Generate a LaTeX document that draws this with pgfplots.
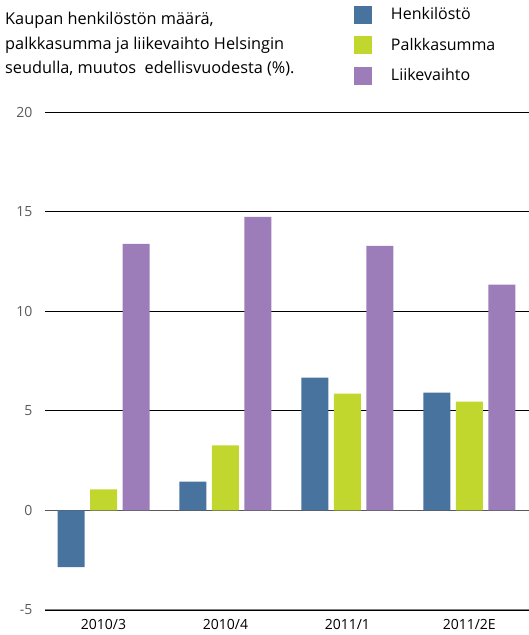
\documentclass[border=0pt]{standalone}
\usepackage{fontspec}
\setmainfont{Open Sans}
\usepackage{pgfplots}
\pgfplotsset{compat=1.18}
\definecolor{henk}{RGB}{71,115,158}
\definecolor{palk}{RGB}{193,215,46}
\definecolor{liik}{RGB}{157,125,185}
\definecolor{ticktext}{RGB}{90,90,90}

\begin{document}
\begin{tikzpicture}[x=1pt,y=1pt]
\useasboundingbox (0,0) rectangle (529,635);
\node[anchor=north west, align=left, inner sep=0pt,
      font=\fontsize{16.3}{24.5}\selectfont] at (5,623)
  {Kaupan henkilöstön määrä,\\palkkasumma ja liikevaihto Helsingin\\seudulla, muutos\ \ edellisvuodesta (\%).};
\begin{axis}[
    at={(45pt,25pt)}, anchor=south west,
    scale only axis,
    width=484pt, height=498pt,
    ybar, bar width=27pt, ybar=5.5pt,
    xmin=-0.48, xmax=3.49,
    ymin=-5, ymax=20,
    xtick={0,1,2,3},
    xticklabels={2010/3,2010/4,2011/1,2011/2E},
    ytick={-5,0,5,10,15,20},
    ymajorgrids,
    grid style={black, line width=0.8pt},
    axis line style={draw=none},
    major tick length=0pt,
    /pgf/number format/assume math mode=true,
    tick label style={font=\fontsize{14}{17}\selectfont},
    yticklabel style={text=ticktext, xshift=-9pt},
    xticklabel style={text=black, yshift=-6pt},
    legend style={at={(axis description cs:0.638,1.214)}, anchor=north west,
        draw=none, fill=none, inner sep=0pt, row sep=12.5pt,
        font=\fontsize{16}{18}\selectfont,
        nodes={inner sep=1pt},
        /tikz/every odd column/.append style={column sep=18pt}},
    legend cell align=left,
    legend image code/.code={\fill[#1] (0pt,-9pt) rectangle (18pt,9pt);},
]
\draw[black!65, line width=1.6pt] (rel axis cs:0,0.2) -- (rel axis cs:1,0.2);
\draw[black!50, line width=2pt] (rel axis cs:0,0) -- (rel axis cs:1,0);
\addplot[fill=henk, draw=none] coordinates {(0,-2.85) (1,1.45) (2,6.67) (3,5.91)};
\addplot[fill=palk, draw=none] coordinates {(0,1.05) (1,3.26) (2,5.86) (3,5.46)};
\addplot[fill=liik, draw=none] coordinates {(0,13.38) (1,14.74) (2,13.28) (3,11.33)};
\legend{Henkilöstö, Palkkasumma, Liikevaihto}
\end{axis}
\end{tikzpicture}
\end{document}
